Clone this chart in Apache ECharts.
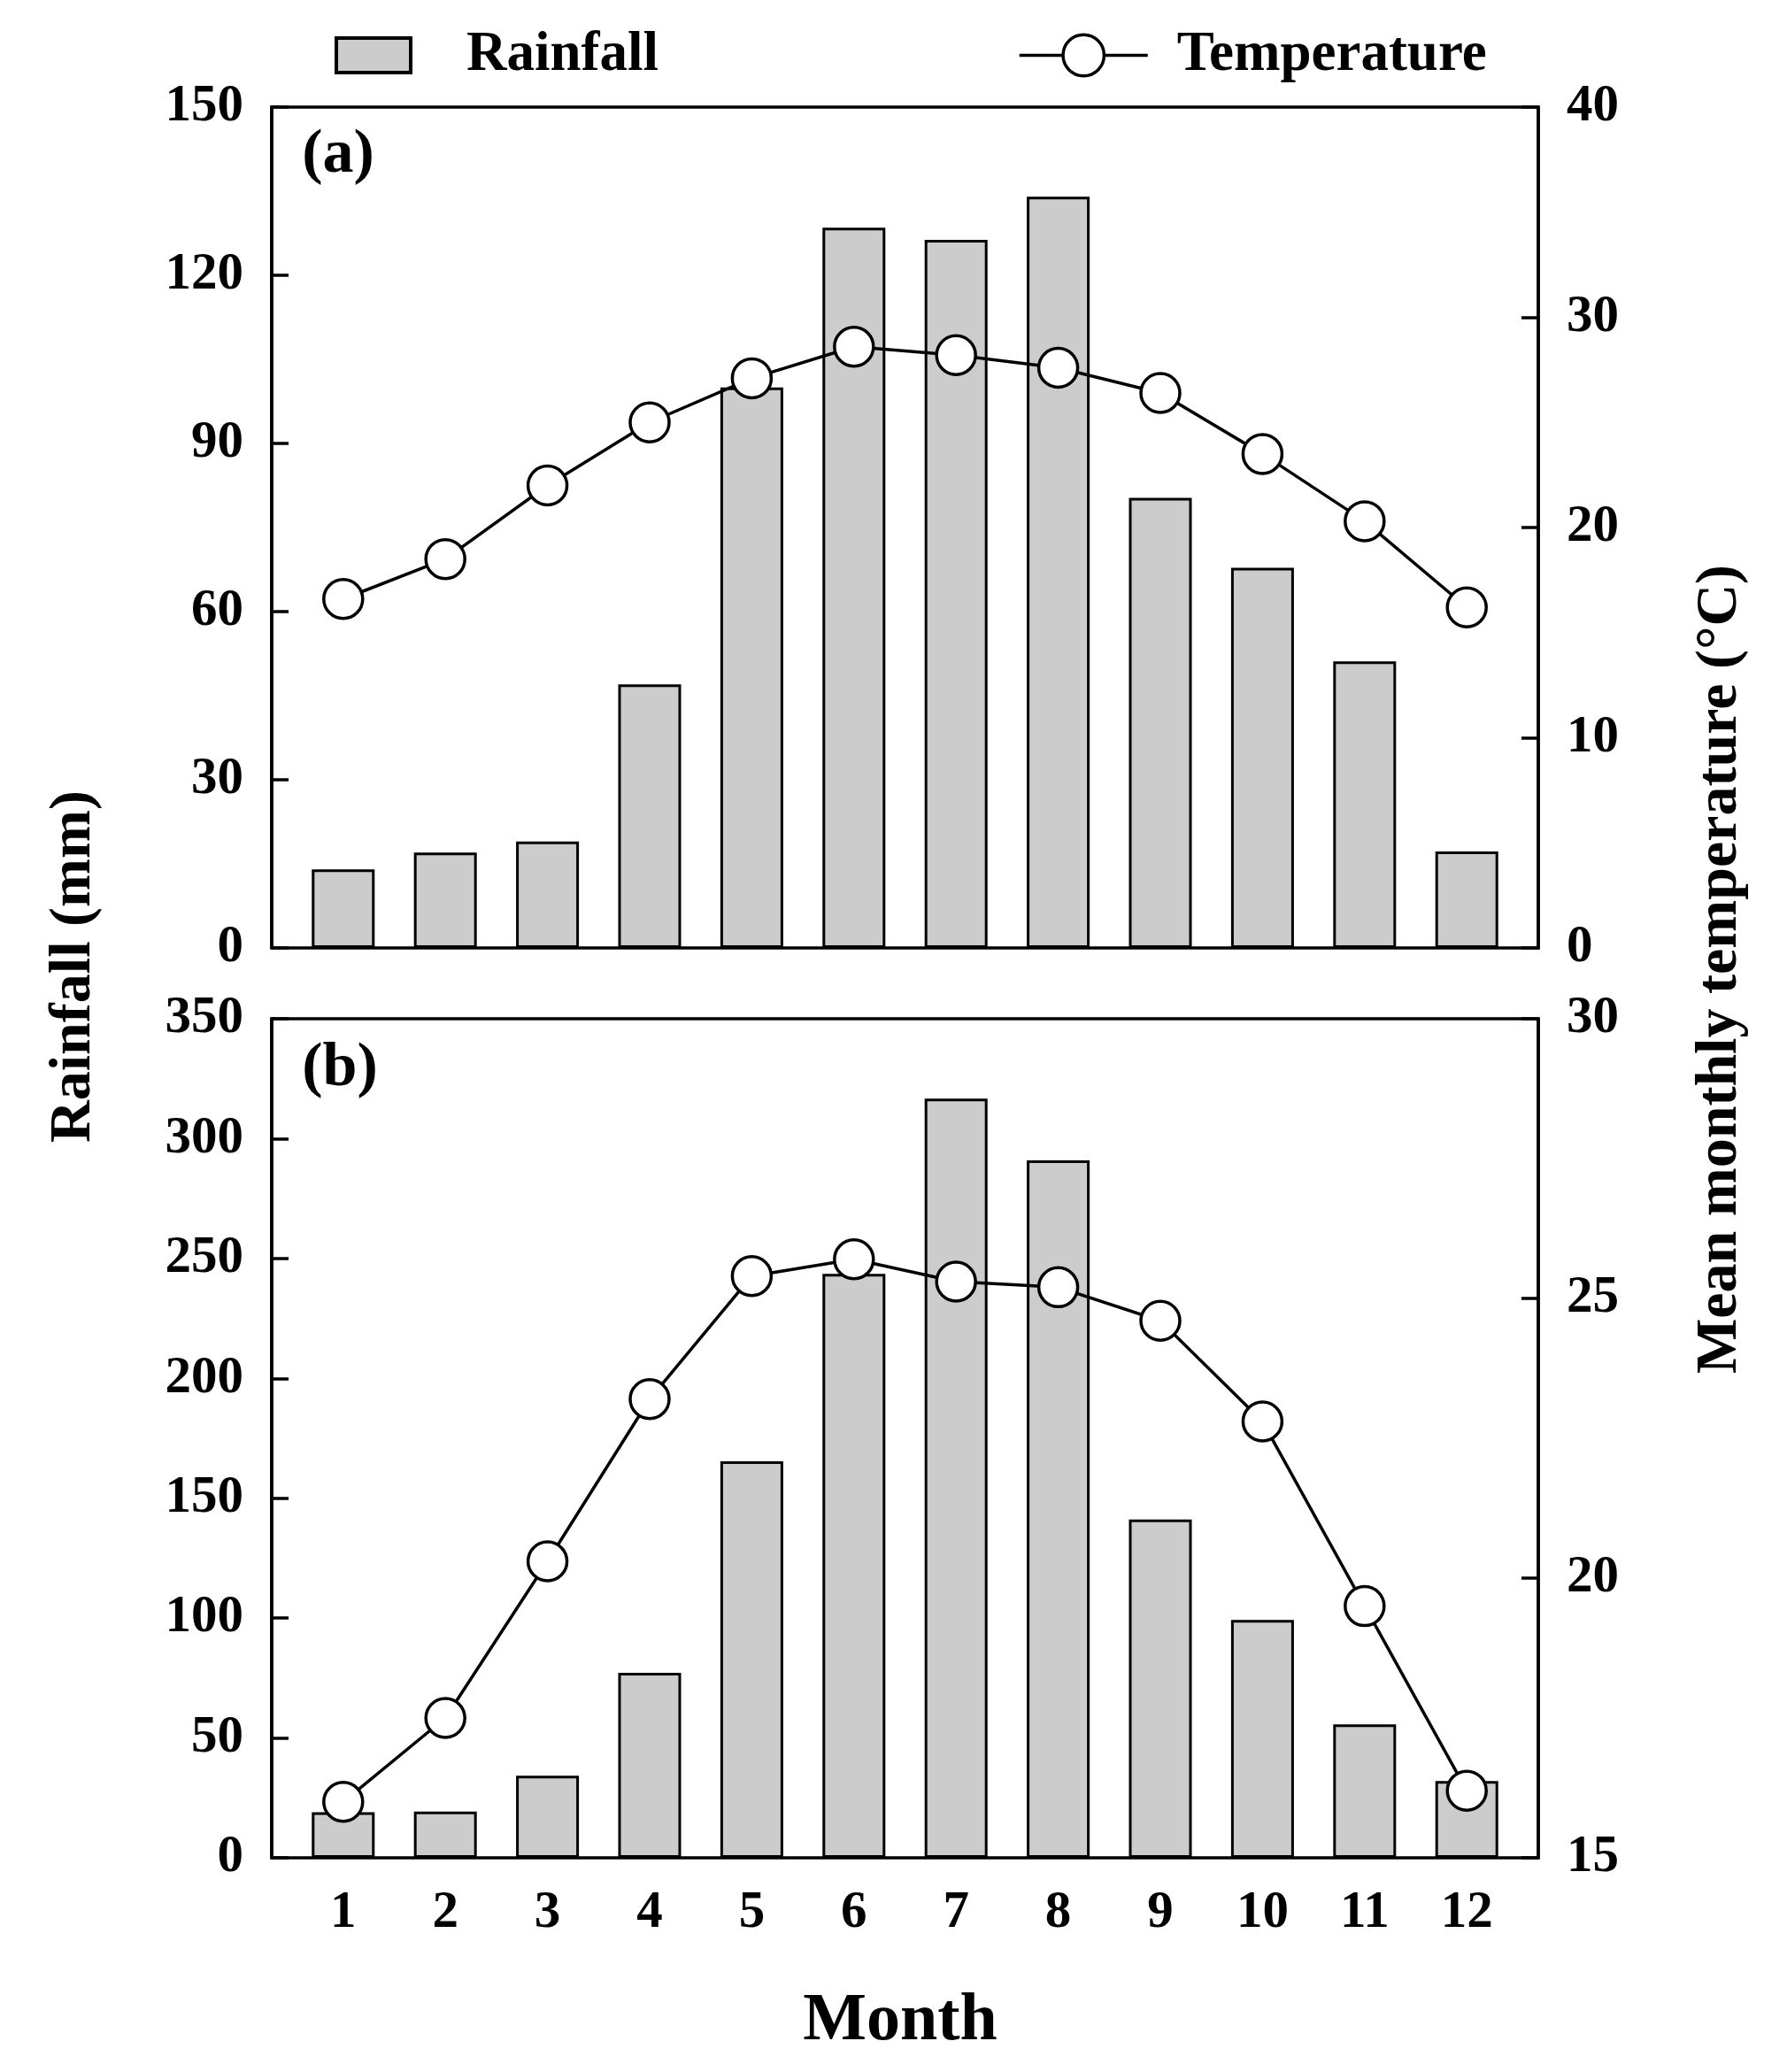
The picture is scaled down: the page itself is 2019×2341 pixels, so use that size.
<!DOCTYPE html>
<html>
<head>
<meta charset="utf-8">
<script src="https://cdn.jsdelivr.net/npm/echarts@6/dist/echarts.min.js"></script>
<style>
  html, body { margin: 0; padding: 0; background: #fff; }
  #chart { width: 2019px; height: 2341px; }
</style>
</head>
<body>
<div id="chart"></div>
<script>
// month numbers on the shared x axis
var months = [1, 2, 3, 4, 5, 6, 7, 8, 9, 10, 11, 12];

// panel (a)
var rainA = [14, 17, 19, 47, 100, 128.5, 126.3, 134, 80.3, 67.8, 51.1, 17.2];
var tempA = [16.6, 18.5, 22.0, 25.0, 27.1, 28.6, 28.2, 27.6, 26.4, 23.5, 20.3, 16.2];

// panel (b)
var rainB = [19, 19.3, 34.2, 77.2, 165.4, 243.6, 316.7, 290.9, 141.1, 99.2, 55.7, 32];
var tempB = [16.0, 17.5, 20.3, 23.2, 25.4, 25.7, 25.3, 25.2, 24.6, 22.8, 19.5, 16.2];

// axis ranges [min, max, interval]
var rainAxisA = [0, 150, 30];
var tempAxisA = [0, 40, 10];
var rainAxisB = [0, 350, 50];
var tempAxisB = [15, 30, 5];

var FONT = '"Liberation Serif", "Times New Roman", serif';

function pairs(xs, ys) {
    return xs.map(function (x, i) { return [x, ys[i]]; });
}

function yAxis(gridIndex, range, pos) {
    return {
        type: 'value',
        gridIndex: gridIndex,
        position: pos,
        min: range[0],
        max: range[1],
        interval: range[2],
        axisLine: { show: true, lineStyle: { color: '#000', width: 3.5 } },
        axisTick: { show: true, inside: true, length: 19, lineStyle: { color: '#000', width: 3.5 } },
        axisLabel: {
            margin: 32,
            color: '#000',
            fontFamily: FONT,
            fontWeight: 'bold',
            fontSize: 59
        },
        splitLine: { show: false }
    };
}

function xAxis(gridIndex, withLabels) {
    return {
        type: 'value',
        gridIndex: gridIndex,
        min: 0.3,
        max: 12.7,
        axisLine: { show: false },
        axisTick: { show: false },
        splitLine: { show: false },
        axisLabel: {
            show: withLabels,
            customValues: months,
            margin: 33,
            color: '#000',
            fontFamily: FONT,
            fontWeight: 'bold',
            fontSize: 59
        }
    };
}

function barSeries(name, xi, yi, values) {
    return {
        name: name,
        type: 'bar',
        xAxisIndex: xi,
        yAxisIndex: yi,
        barWidth: 71,
        itemStyle: { color: '#cccccc', borderColor: '#000', borderWidth: 3 },
        data: pairs(months, values),
        z: 2
    };
}

function lineSeries(name, xi, yi, values) {
    return {
        name: name,
        type: 'line',
        xAxisIndex: xi,
        yAxisIndex: yi,
        symbol: 'circle',
        symbolSize: 44,
        lineStyle: { color: '#000', width: 3.5 },
        itemStyle: { color: '#fff', borderColor: '#000', borderWidth: 3.5 },
        data: pairs(months, values),
        z: 3
    };
}

function label(text, x, y, size, rotate) {
    return {
        type: 'text',
        x: x,
        y: y,
        rotation: rotate ? Math.PI / 2 : 0,
        style: {
            text: text,
            fill: '#000',
            font: 'bold ' + size + 'px ' + FONT,
            align: 'center',
            verticalAlign: 'middle'
        }
    };
}

var legendText = { color: '#000', fontFamily: FONT, fontWeight: 'bold', fontSize: 63 };

var chart = echarts.init(document.getElementById('chart'));
chart.setOption({
    backgroundColor: '#fff',
    animation: false,
    legend: [
        {
            data: [{ name: 'Rainfall', icon: 'rect' }],
            left: 378,
            top: 31,
            padding: 0,
            itemWidth: 84,
            itemHeight: 39,
            itemStyle: { color: '#cccccc', borderColor: '#000', borderWidth: 4 },
            textStyle: Object.assign({ padding: [0, 0, 0, 58] }, legendText)
        },
        {
            data: ['Temperature'],
            left: 1150,
            top: 31,
            padding: 0,
            itemWidth: 145,
            itemHeight: 58,
            itemStyle: { color: '#fff', borderColor: '#000', borderWidth: 3.5 },
            lineStyle: { color: '#000', width: 3.5 },
            textStyle: Object.assign({ padding: [0, 0, 0, 28] }, legendText)
        }
    ],
    grid: [
        { left: 307, right: 281, top: 121, height: 950, show: true, borderColor: '#000', borderWidth: 3.5 },
        { left: 307, right: 281, top: 1151, height: 948, show: true, borderColor: '#000', borderWidth: 3.5 }
    ],
    xAxis: [xAxis(0, false), xAxis(1, true)],
    yAxis: [
        yAxis(0, rainAxisA, 'left'),
        yAxis(0, tempAxisA, 'right'),
        yAxis(1, rainAxisB, 'left'),
        yAxis(1, tempAxisB, 'right')
    ],
    series: [
        barSeries('Rainfall', 0, 0, rainA),
        lineSeries('Temperature', 0, 1, tempA),
        barSeries('Rainfall', 1, 2, rainB),
        lineSeries('Temperature', 1, 3, tempB)
    ],
    graphic: [
        label('(a)', 382, 176, 70, false),
        label('(b)', 384, 1208, 70, false),
        label('Rainfall (mm)', 84, 1092, 66, true),
        label('Mean monthly temperature (°C)', 1944, 1095, 66, true),
        label('Month', 1017, 2284, 76, false)
    ]
});
</script>
</body>
</html>
